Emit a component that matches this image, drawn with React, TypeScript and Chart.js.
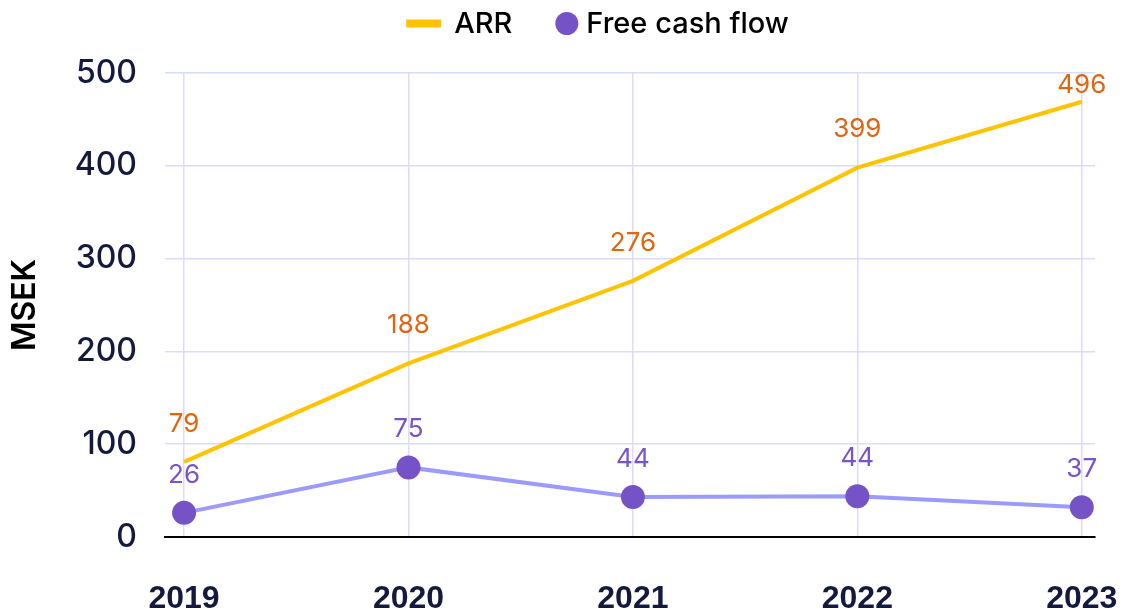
import React, { useEffect, useRef } from 'react';
import { Chart, registerables } from 'chart.js';

Chart.register(...registerables);

const categories = ['2019', '2020', '2021', '2022', '2023'];
const seriesNames = ['ARR', 'Free cash flow'];
const arrValues = [81, 187, 276, 398, 469];
const arrLabels = ['79', '188', '276', '399', '496'];
const fcfValues = [26, 75, 43, 44, 32];
const fcfLabels = ['26', '75', '44', '44', '37'];
const yTicks = [0, 100, 200, 300, 400, 500];
const yTitle = 'MSEK';

const ARR_COLOR = '#FFC300';
const FCF_LINE = '#9B9BFF';
const FCF_POINT = '#7652C7';
const ARR_LABEL = '#DF650E';
const FCF_LABEL = '#7754CB';
const GRID = '#D9DBFF';
const NAVY = '#141A3D';

const valueLabelsPlugin = {
  id: 'valueLabels',
  afterDatasetsDraw(chart: any) {
    const ctx = chart.ctx;
    const area = chart.chartArea;
    const sets = [
      { texts: arrLabels, color: ARR_LABEL },
      { texts: fcfLabels, color: FCF_LABEL },
    ];
    sets.forEach((s, di) => {
      const meta = chart.getDatasetMeta(di);
      ctx.save();
      ctx.font = '26px Inter';
      ctx.fillStyle = s.color;
      ctx.textAlign = 'center';
      ctx.textBaseline = 'middle';
      meta.data.forEach((pt: any, i: number) => {
        const y = Math.max(pt.y - 38, area.top + 12);
        ctx.fillText(s.texts[i], pt.x, y);
      });
      ctx.restore();
    });
  },
};

const legendPlugin = {
  id: 'topLegend',
  afterDraw(chart: any) {
    const ctx = chart.ctx;
    ctx.save();
    ctx.font = '500 29px Inter';
    ctx.textBaseline = 'middle';
    ctx.textAlign = 'left';
    const wA = ctx.measureText(seriesNames[0]).width;
    const wF = ctx.measureText(seriesNames[1]).width;
    const swatchW = 35;
    const r = 11.5;
    const gapItems = 43;
    const total = swatchW + 13 + wA + gapItems + 2 * r + 8 + wF;
    const centerX = 597.5;
    const y = 23.5;
    let x = centerX - total / 2;
    ctx.fillStyle = ARR_COLOR;
    ctx.fillRect(x, y - 4, swatchW, 8);
    x += swatchW + 13;
    ctx.fillStyle = '#000';
    ctx.fillText(seriesNames[0], x, y + 1);
    x += wA + gapItems;
    ctx.fillStyle = FCF_POINT;
    ctx.beginPath();
    ctx.arc(x + r, y, r, 0, Math.PI * 2);
    ctx.fill();
    x += 2 * r + 8;
    ctx.fillStyle = '#000';
    ctx.fillText(seriesNames[1], x, y + 1);
    ctx.restore();
  },
};

export default function App() {
  const ref = useRef<HTMLCanvasElement | null>(null);
  useEffect(() => {
    if (!ref.current) return;
    const chart = new Chart(ref.current, {
      type: 'line',
      data: {
        datasets: [
          {
            label: seriesNames[0],
            data: arrValues.map((v, i) => ({ x: i, y: v })),
            borderColor: ARR_COLOR,
            backgroundColor: ARR_COLOR,
            borderWidth: 4,
            pointRadius: 0,
            tension: 0,
          },
          {
            label: seriesNames[1],
            data: fcfValues.map((v, i) => ({ x: i, y: v })),
            borderColor: FCF_LINE,
            backgroundColor: FCF_POINT,
            borderWidth: 4,
            pointRadius: 12,
            pointBackgroundColor: FCF_POINT,
            pointBorderWidth: 0,
            tension: 0,
          },
        ],
      },
      options: {
        animation: false,
        responsive: false,
        layout: { padding: { top: 73, right: 31, bottom: 0, left: 0 } },
        plugins: {
          legend: { display: false },
          tooltip: { enabled: false },
        },
        scales: {
          x: {
            type: 'linear',
            min: -0.085,
            max: 4.059,
            afterBuildTicks: (scale: any) => {
              scale.ticks = categories.map((_, i) => ({ value: i }));
            },
            afterFit: (scale: any) => {
              scale.height = 74;
              scale.paddingLeft = 0;
              scale.paddingRight = 0;
            },
            ticks: {
              callback: (v: any) => categories[v] ?? '',
              color: NAVY,
              padding: 43,
              font: { family: 'Liberation Sans', size: 32, weight: 'bold' },
              maxRotation: 0,
              autoSkip: false,
            },
            grid: { color: GRID, lineWidth: 1.5, drawTicks: false },
            border: { display: true, color: '#000', width: 2 },
          },
          y: {
            min: 0,
            max: 500,
            afterBuildTicks: (scale: any) => {
              scale.ticks = yTicks.map((v) => ({ value: v }));
            },
            afterFit: (scale: any) => {
              scale.width = 165;
            },
            ticks: {
              color: NAVY,
              padding: 28,
              font: { family: 'Inter', size: 32, weight: 500 },
            },
            grid: {
              color: (c: any) => (c.tick && c.tick.value === 0 ? 'rgba(0,0,0,0)' : GRID),
              lineWidth: 1.5,
              drawTicks: false,
            },
            border: { display: false },
            title: {
              display: true,
              text: yTitle,
              color: '#000',
              font: { family: 'Inter', size: 32, weight: 600 },
              padding: { top: 6, bottom: 0 },
            },
          },
        },
      },
      plugins: [valueLabelsPlugin, legendPlugin],
    } as any);
    return () => chart.destroy();
  }, []);
  return (
    <div style={{ position: 'absolute', left: 0, top: 0, width: 1126, height: 611 }}>
      <canvas ref={ref} width={1126} height={611} />
    </div>
  );
}
